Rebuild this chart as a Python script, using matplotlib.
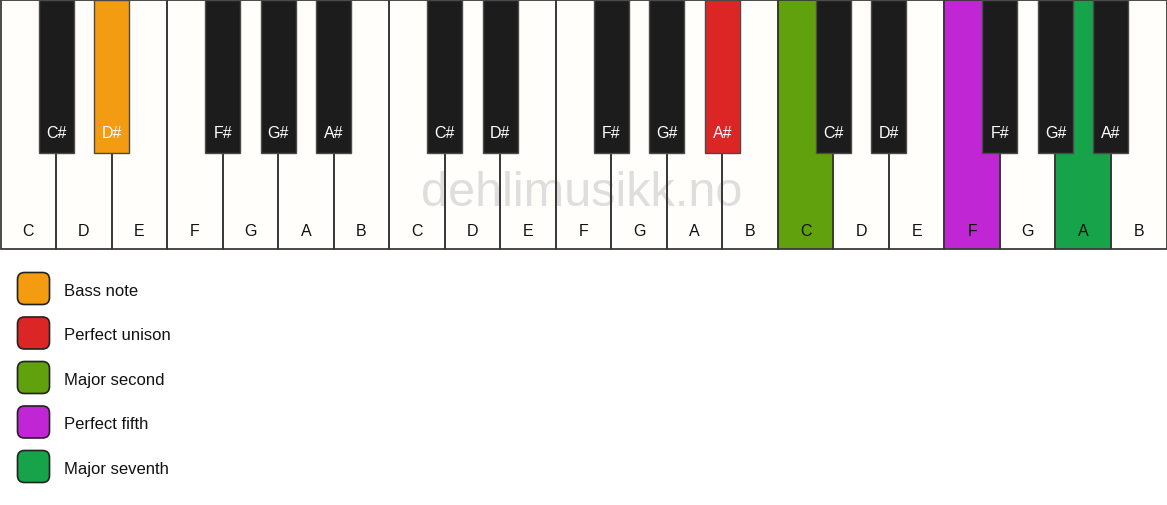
import matplotlib
matplotlib.use("Agg")
import matplotlib.pyplot as plt
from matplotlib.patches import Rectangle, FancyBboxPatch

plt.rcParams['font.family'] = ['Liberation Sans', 'DejaVu Sans']

# ---- data ----
octave_whites = ["C", "D", "E", "F", "G", "A", "B"]
n_octaves = 3
white_names = octave_whites * n_octaves
sharp_after = {"C": "C#", "D": "D#", "F": "F#", "G": "G#", "A": "A#"}

legend_labels = ["Bass note", "Perfect unison", "Major second", "Perfect fifth", "Major seventh"]
legend_colors = ["#F39C12", "#DC2626", "#62A10E", "#C026D3", "#16A34A"]
black_highlights = {1: 0, 9: 1}           # D# (oct 1) bass, A# (oct 2) unison
white_highlights = {14: 2, 17: 3, 19: 4}  # C, F, A in octave 3
watermark = "dehlimusikk.no"

W, H = 1167, 506
fig = plt.figure(figsize=(W / 100, H / 100), dpi=100)
ax = fig.add_axes([0, 0, 1, 1])
ax.set_xlim(0, W)
ax.set_ylim(H, 0)
ax.axis("off")

kb_h = 250
n_white = len(white_names)
ww = (W - 1) / n_white
bw = 35
bh = 153
edge = "#3a3a3a"

# white keys: fill, then watermark, then outlines
for i, name in enumerate(white_names):
    x = 0.5 + i * ww
    fc = legend_colors[white_highlights[i]] if i in white_highlights else "#FFFEFA"
    ax.add_patch(Rectangle((x, 0.5), ww, kb_h - 0.5, facecolor=fc, edgecolor="none", zorder=1))
    ax.add_patch(Rectangle((x, 0.5), ww, kb_h - 0.5, facecolor="none", edgecolor=edge, lw=1.3, zorder=2))
    ax.text(x + ww / 2, 231, name, ha="center", va="center", fontsize=11.5, color="#111111", zorder=5)

ax.text(582, 193, watermark, ha="center", va="center", fontsize=35, color="#DEDEDE", zorder=1.5)

# black keys
bi = 0
for i, name in enumerate(white_names[:-1]):
    if name in sharp_after:
        cx = 0.5 + (i + 1) * ww
        fc = legend_colors[black_highlights[bi]] if bi in black_highlights else "#1C1C1C"
        ax.add_patch(Rectangle((cx - bw / 2, 0.5), bw, bh, facecolor=fc, edgecolor="#4a4a4a", lw=1.0, zorder=3))
        ax.text(cx, 133, sharp_after[name], ha="center", va="center", fontsize=11.5, color="white", zorder=5)
        bi += 1

# legend
for k, (lab, col) in enumerate(zip(legend_labels, legend_colors)):
    y = 273 + k * 44.5
    ax.add_patch(FancyBboxPatch((17.5, y + 0.5), 32, 32, boxstyle="round,pad=0,rounding_size=7",
                                facecolor=col, edgecolor="#222222", lw=1.2, zorder=3))
    ax.text(64, y + 18.5, lab, ha="left", va="center", fontsize=12, color="#111111")

fig.savefig("out.png", dpi=100)
